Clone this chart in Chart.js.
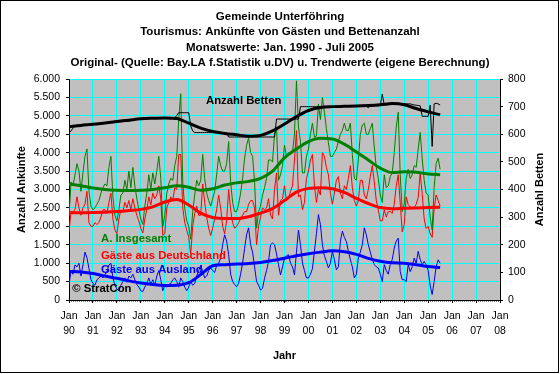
<!DOCTYPE html>
<html>
<head>
<meta charset="utf-8">
<script src="https://cdn.jsdelivr.net/npm/chart.js"></script>
<style>
html,body{margin:0;padding:0;background:#fff;}
canvas{display:block;}
</style>
</head>
<body>
<canvas id="c" width="560" height="374"></canvas>
<script>
// ---- Data (monthly values, Jan 1990 - Jul 2005) ----
const startYear = 1990;
const yearTickLabels = ['90','91','92','93','94','95','96','97','98','99','00','01','02','03','04','05','06','07','08'];
const leftTickLabels = ['0','500','1.000','1.500','2.000','2.500','3.000','3.500','4.000','4.500','5.000','5.500','6.000'];

const insgesamt = [
 2250,3200,3100,3400,3700,3500,2950,3450,3900,4100,2950,2550,
 2450,2500,2600,2700,2900,3050,3150,3100,3600,3900,2800,2300,
 2150,2450,2850,2900,3250,3000,3500,3050,3600,3100,2750,2450,
 2200,2050,2550,2900,3400,3000,3450,3150,3500,3900,3300,2000,
 2300,2900,3150,3300,3250,3650,3900,4900,5600,3200,2500,2150,
 2000,1650,2400,2850,3250,3100,3250,3950,3300,2900,2700,2550,
 2750,2950,3400,3900,3650,3500,3500,3700,4300,3200,2650,2400,
 2400,2600,2900,3300,3850,4200,4400,4000,3900,3200,1950,2400,
 2550,2850,3050,3300,3800,3800,3750,4500,4700,3250,3400,3650,
 4200,3900,4000,3950,4000,4500,5950,4700,4300,3450,3450,3900,
 4100,4500,4800,4420,4450,5320,4900,5500,5100,4650,4270,3900,
 3900,4000,4100,4300,4500,4600,4800,4600,4600,4800,3950,3300,
 3250,3800,4500,4750,4800,4500,4500,4650,4800,4150,3600,3300,
 2850,2650,3400,3050,3100,3350,3450,4000,4700,5100,3400,2400,
 2600,3300,3550,3300,3400,3650,3600,4100,4550,3850,3250,2900,
 2850,2250,1900,3050,3700,3850,3550
];
const deutschland = [
 1850,2400,2400,2450,2800,2500,2300,2500,2600,2950,2100,2000,
 2000,2100,2050,2100,2250,2450,2450,2350,2650,2900,2200,1900,
 1800,2200,2450,2400,2650,2500,2700,2450,2750,2500,2300,2150,
 1950,1820,2200,2450,2800,2580,2900,2750,2850,3100,2750,1750,
 1800,2500,2650,2800,2700,3050,3000,3950,3950,2500,2100,1900,
 1700,1250,2000,2350,2550,2300,2300,3150,2650,2250,1950,1750,
 1950,2200,2450,2850,2500,2000,1800,2150,3000,2450,2100,1950,
 2000,2100,2200,2300,2400,2400,2600,2700,2700,2500,1500,2000,
 2250,2500,2450,2500,2750,2300,2200,3000,3450,2300,2700,2750,
 3100,2700,2750,2950,3100,3800,4600,2800,2850,2450,2650,3300,
 3500,3800,3950,3100,2650,3000,2850,4000,3900,3600,3400,2900,
 2600,2900,3250,3350,2900,2750,3100,3000,3300,3650,3050,2700,
 2550,2700,3250,3250,2850,2750,3000,3350,3650,3200,2700,2450,
 2150,2150,2450,2250,2400,2400,2350,2600,3100,3400,2630,1850,
 2050,2800,2590,2530,2500,2510,2600,2780,3450,2890,2200,1940,
 2000,1800,1700,2500,2850,2700,2550
];
const ausland = [
 400,800,700,950,900,1000,650,950,1300,1150,850,550,
 450,400,550,600,650,600,700,750,950,1000,600,400,
 300,250,400,500,600,480,650,600,700,550,420,350,
 250,230,350,450,600,420,550,400,650,800,550,250,
 400,350,420,450,550,600,500,350,600,500,350,250,
 350,500,400,450,650,800,940,770,600,650,800,870,
 800,750,940,1000,1140,1500,1770,1600,1230,700,500,420,
 360,450,700,1000,1400,1770,1960,1500,1300,900,500,400,
 270,320,590,800,1050,1500,1550,1500,1250,960,680,900,
 1140,1200,1230,1000,900,680,1300,1900,1500,1000,800,600,
 600,700,850,1320,1800,2320,2050,1500,1200,1050,870,1000,
 1320,1100,820,900,1590,1870,1700,1590,1320,1100,900,600,
 700,1140,1300,1500,1960,1770,1500,1300,1100,960,900,870,
 700,500,960,800,700,960,1100,1410,1600,1680,770,550,
 550,500,960,770,900,1140,1000,1320,1100,960,1050,960,
 800,400,150,500,900,1090,1000
];
const betten = [
 605,612,622,630,633,633,634,634,635,635,636,636,
 637,637,638,638,639,640,640,641,641,642,642,643,
 644,645,645,646,647,648,648,649,654,654,655,655,
 656,656,656,657,657,657,658,658,658,658,659,659,
 659,659,659,659,659,659,668,678,678,678,678,678,
 678,630,612,606,606,606,606,606,606,606,606,606,
 606,606,606,606,606,606,606,606,590,590,590,590,
 590,590,590,590,590,590,590,590,590,590,590,590,
 590,590,590,590,590,590,590,590,655,655,655,655,
 655,655,655,655,655,655,655,655,700,700,700,700,
 700,700,700,700,700,700,700,700,700,700,700,700,
 700,700,701,701,701,701,702,702,702,702,702,702,
 702,702,702,702,702,702,696,702,702,703,703,703,
 704,745,706,706,707,708,710,710,710,710,710,710,
 710,710,710,710,708,706,705,704,703,665,665,665,
 665,705,556,710,712,710,706
];

// ---- Trend values (half-yearly knots) ----
const trendYears = [1990,1990.5,1991,1991.5,1992,1992.5,1993,1993.5,1994,1994.5,1995,1995.5,1996,1996.5,1997,1997.5,
  1998,1998.5,1999,1999.5,2000,2000.5,2001,2001.5,2002,2002.5,2003,2003.5,2004,2004.5,2005,2005.5];
const trendInsgesamt = [3150,3100,3040,3000,2980,2975,2980,3000,3050,3100,3060,2980,3020,3120,3180,3220,
  3300,3500,3860,4100,4300,4390,4370,4230,4020,3800,3580,3460,3480,3470,3420,3400];
const trendDeutschland = [2370,2370,2375,2385,2400,2430,2460,2530,2660,2730,2580,2360,2240,2210,2210,2260,
  2360,2480,2700,2930,3030,3050,3020,2920,2760,2620,2510,2480,2490,2500,2510,2520];
const trendAusland = [775,760,720,650,590,520,460,420,395,400,470,690,930,960,975,990,
  1020,1070,1135,1200,1255,1300,1335,1310,1240,1130,1050,1010,1000,960,910,885];
const trendBetten = [627,632,636,641,646,651,656,658,659,657,640,622,610,603,598,593,
  596,612,637,664,686,697,700,701,702,704,707,711,707,693,681,670];

// ---- Build points ----
const monthly = arr => arr.map((v, i) => ({ x: startYear + i / 12, y: v }));
const knots = arr => arr.map((v, i) => ({ x: trendYears[i], y: v }));

const FONT = "'Liberation Sans', Arial, sans-serif";
const GREEN = '#008000', RED = '#FF0000', BLUE = '#0000FF', BLACK = '#000000';

function rawSet(data, color, axis) {
  return { data: monthly(data), borderColor: color, borderWidth: 1, pointRadius: 0, tension: 0, yAxisID: axis, order: 2 };
}
function trendSet(data, color, axis) {
  return { data: knots(data), borderColor: color, borderWidth: 3, pointRadius: 0, cubicInterpolationMode: 'monotone', yAxisID: axis, order: 1 };
}

const decor = {
  id: 'decor',
  beforeDraw(chart) {
    const { ctx, chartArea: a } = chart;
    ctx.save();
    ctx.fillStyle = '#FFFFFF';
    ctx.fillRect(0, 0, chart.width, chart.height);
    ctx.fillStyle = '#C0C0C0';
    ctx.fillRect(a.left, a.top, a.right - a.left, a.bottom - a.top);
    ctx.restore();
  },
  afterDraw(chart) {
    const { ctx, chartArea: a } = chart;
    const xs = chart.scales.x;
    ctx.save();
    // monthly minor ticks on the x axis
    ctx.strokeStyle = '#000';
    ctx.lineWidth = 1;
    ctx.beginPath();
    for (let k = 0; k <= 18 * 12; k++) {
      const px = Math.round(xs.getPixelForValue(startYear + k / 12)) + 0.5;
      ctx.moveTo(px, a.bottom);
      ctx.lineTo(px, a.bottom + 1.5);
    }
    ctx.stroke();
    // in-plot labels
    ctx.font = 'bold 11.3px ' + FONT;
    ctx.textBaseline = 'middle';
    ctx.textAlign = 'left';
    const labels = [
      ['Anzahl Betten', BLACK, 206, 101],
      ['A. Insgesamt', GREEN, 101, 238.7],
      ['Gäste aus Deutschland', RED, 101, 256],
      ['Gäste aus Ausland', BLUE, 101, 270],
      ['© StratCon', BLACK, 72.3, 289]
    ];
    labels.forEach(([t, c, x, y]) => { ctx.fillStyle = c; ctx.fillText(t, x, y); });
    // right axis title (reads bottom to top)
    ctx.save();
    ctx.translate(540, (a.top + a.bottom) / 2);
    ctx.rotate(-Math.PI / 2);
    ctx.textAlign = 'center';
    ctx.fillStyle = '#000';
    ctx.font = 'bold 11px ' + FONT;
    ctx.fillText('Anzahl Betten', 0, 0);
    ctx.restore();
    // outer frame
    ctx.strokeStyle = '#000';
    ctx.lineWidth = 1;
    ctx.strokeRect(0.5, 0.5, 558, 372);
    ctx.restore();
  }
};

const cyan = '#00FFFF';
new Chart(document.getElementById('c'), {
  type: 'line',
  data: {
    datasets: [
      trendSet(trendBetten, BLACK, 'y1'),
      trendSet(trendInsgesamt, GREEN, 'y'),
      trendSet(trendDeutschland, RED, 'y'),
      trendSet(trendAusland, BLUE, 'y'),
      rawSet(betten, BLACK, 'y1'),
      rawSet(insgesamt, GREEN, 'y'),
      rawSet(deutschland, RED, 'y'),
      rawSet(ausland, BLUE, 'y')
    ]
  },
  options: {
    responsive: false,
    animation: false,
    devicePixelRatio: 1,
    layout: { padding: 0 },
    plugins: {
      legend: { display: false },
      tooltip: { enabled: false },
      title: {
        display: true,
        text: ['Gemeinde Unterföhring', 'Tourismus: Ankünfte von Gästen und Bettenanzahl',
               'Monatswerte: Jan. 1990 - Juli 2005',
               'Original- (Quelle: Bay.LA f.Statistik u.DV) u. Trendwerte (eigene Berechnung)'],
        color: '#000',
        font: { family: FONT, size: 11.5, weight: 'bold', lineHeight: 15.5 / 11.5 },
        padding: { top: 8.65, bottom: 8.35 }
      }
    },
    scales: {
      x: {
        type: 'linear', position: 'bottom', min: 1990, max: 2008,
        afterFit: s => { s.height = 74; },
        ticks: {
          stepSize: 1, autoSkip: false, maxRotation: 0, minRotation: 0, padding: 5.5,
          color: '#000', font: { family: FONT, size: 10.5, lineHeight: 15 / 10.5 },
          callback: (v, i) => ['Jan', yearTickLabels[i]]
        },
        grid: {
          color: c => (c.tick && (c.tick.value === 1990 || c.tick.value === 2008)) ? 'rgba(0,0,0,0)' : cyan,
          tickColor: '#000', tickLength: 3, lineWidth: 1
        },
        border: { color: '#000', width: 1 },
        title: { display: true, text: 'Jahr', color: '#000', font: { family: FONT, size: 11, weight: 'bold' }, padding: { top: 0, bottom: 11.4 } }
      },
      y: {
        position: 'left', min: 0, max: 6000,
        afterFit: s => { s.width = 69; },
        ticks: {
          stepSize: 500, padding: 6, color: '#000', font: { family: FONT, size: 10.5 },
          callback: (v, i) => leftTickLabels[i]
        },
        grid: {
          color: c => (c.tick && c.tick.value === 0) ? 'rgba(0,0,0,0)' : cyan,
          tickColor: '#000', tickLength: 3, lineWidth: 1
        },
        border: { color: '#000', width: 1 },
        title: { display: true, text: 'Anzahl Ankünfte', color: '#000', font: { family: FONT, size: 11, weight: 'bold' }, padding: { top: 15.1, bottom: 0 } }
      },
      y1: {
        position: 'right', min: 0, max: 800,
        afterFit: s => { s.width = 60; },
        ticks: { stepSize: 100, padding: 5, color: '#000', font: { family: FONT, size: 10.5 } },
        grid: { drawOnChartArea: false, tickColor: '#000', tickLength: 3, lineWidth: 1 },
        border: { color: '#000', width: 1 }
      }
    }
  },
  plugins: [decor]
});
</script>
</body>
</html>
